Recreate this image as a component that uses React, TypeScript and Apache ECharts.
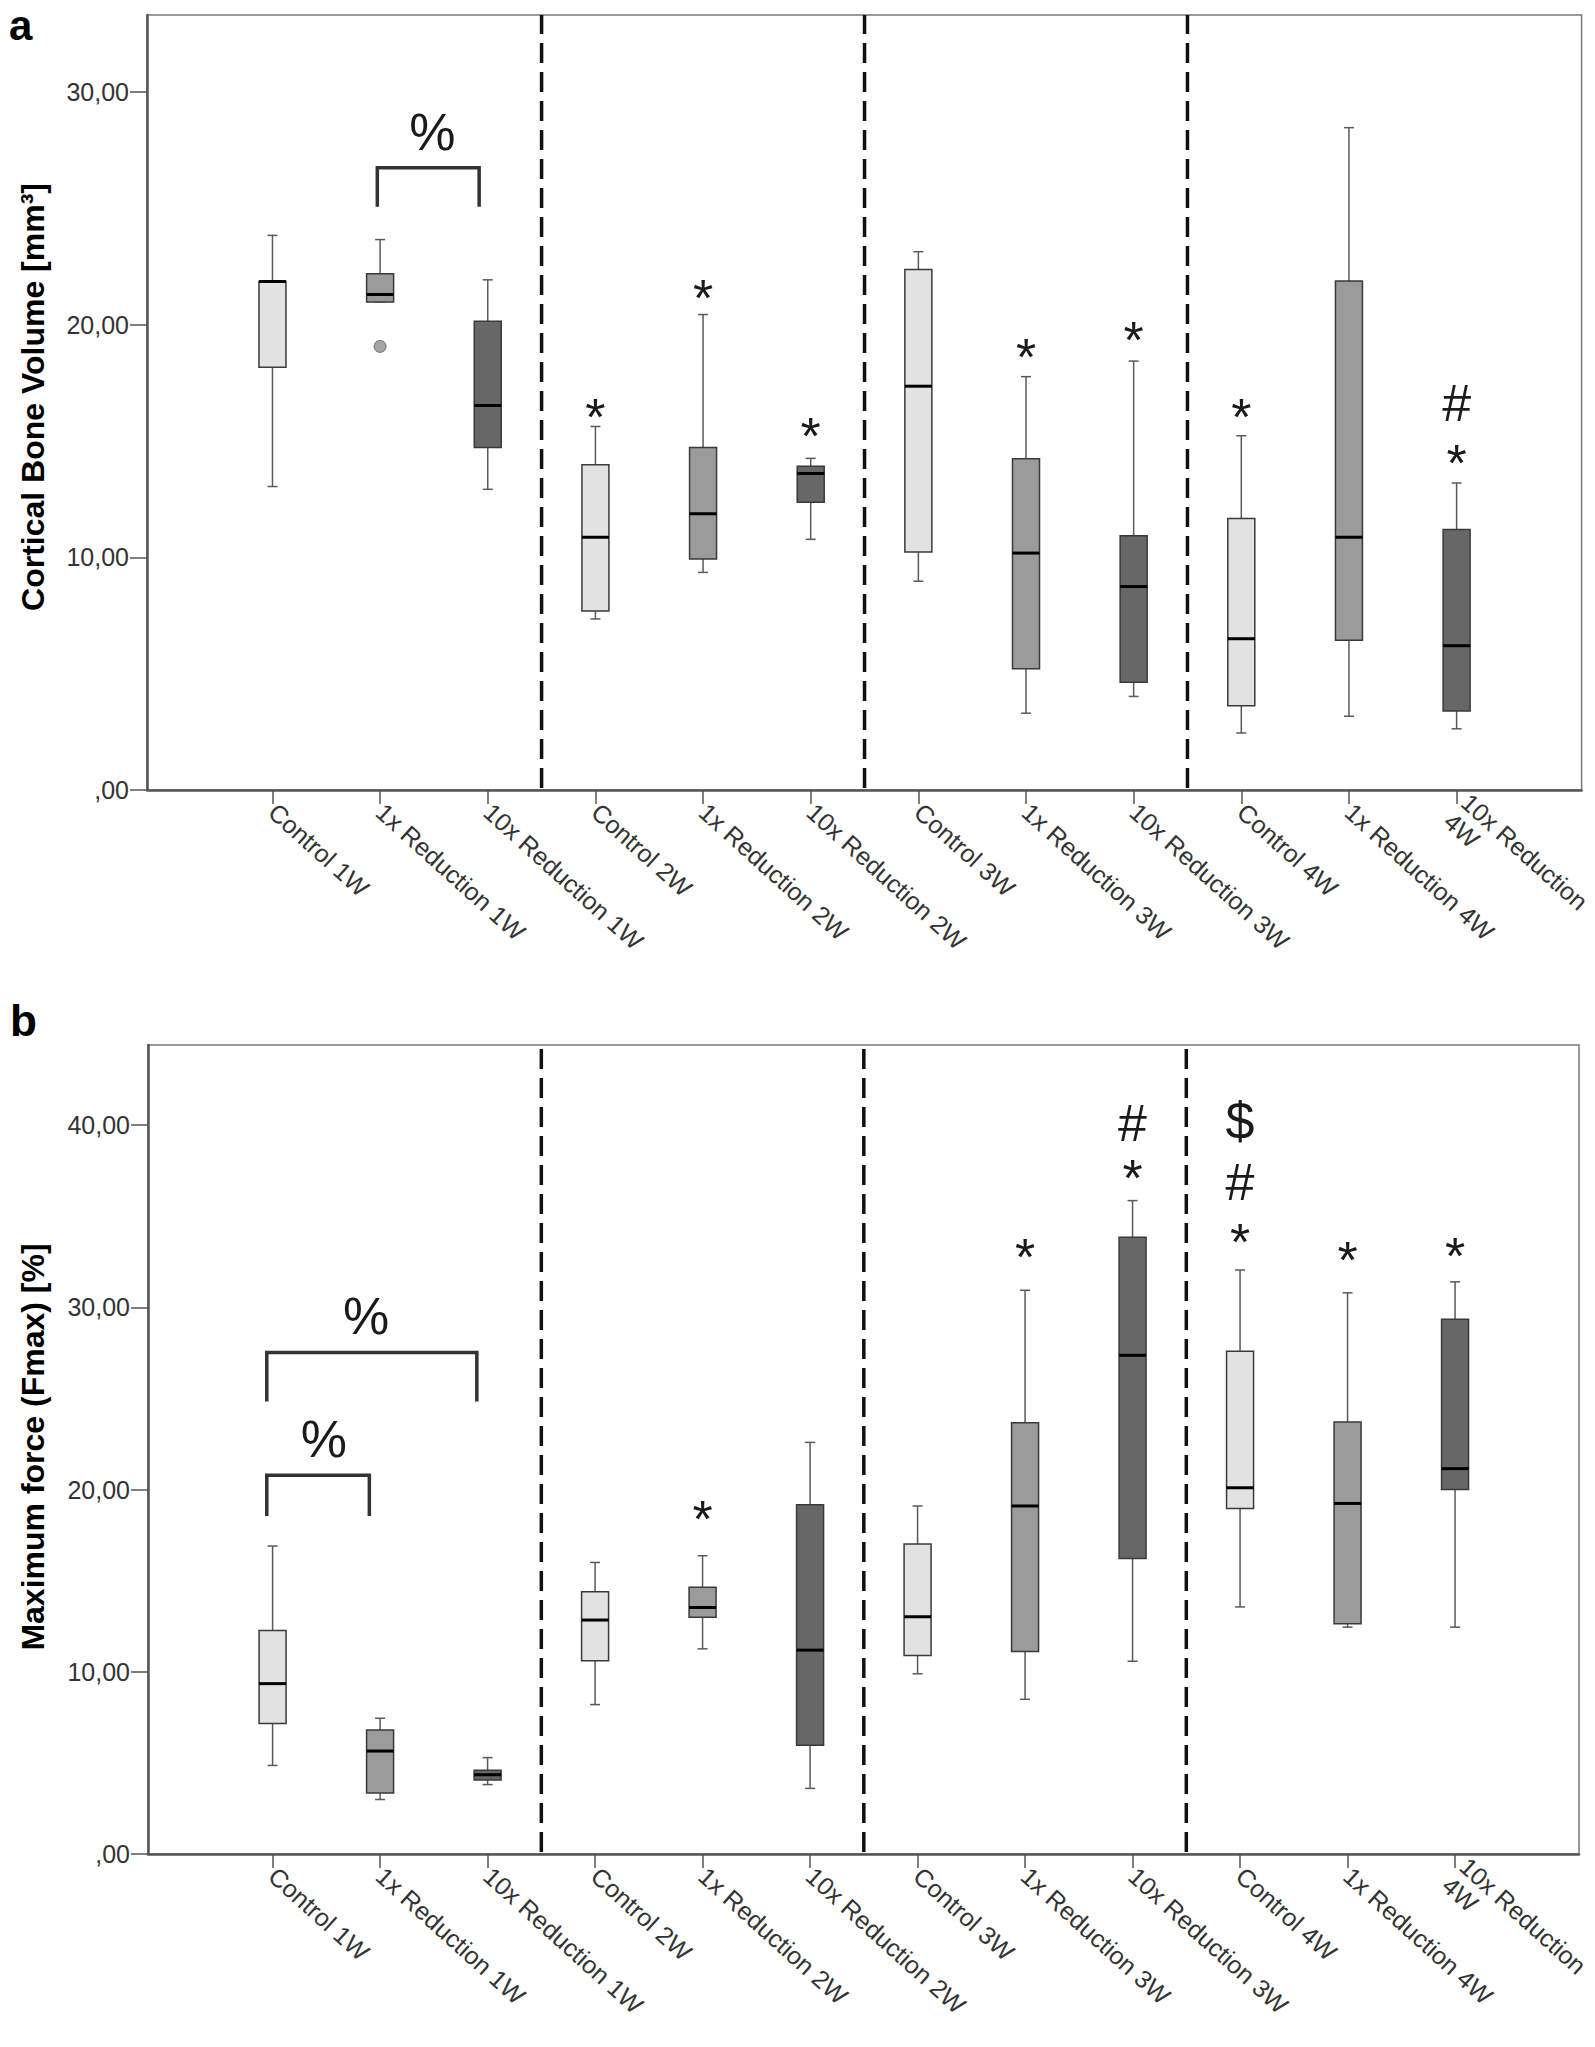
import React, { useEffect, useRef } from 'react';
import * as echarts from 'echarts';

const FONT = "'Liberation Sans', Arial, Helvetica, sans-serif";

// ---------- categories / ticks ----------
const categories = [
  'Control 1W', '1x Reduction 1W', '10x Reduction 1W',
  'Control 2W', '1x Reduction 2W', '10x Reduction 2W',
  'Control 3W', '1x Reduction 3W', '10x Reduction 3W',
  'Control 4W', '1x Reduction 4W', '10x Reduction\n4W',
];
const tickPositions = categories.map((_, i) => i);
const volumeTicks = [0, 10, 20, 30];
const forceTicks = [0, 10, 20, 30, 40];
const separators = [2.5, 5.5, 8.5];

// ---------- panel a: cortical bone volume ----------
const volMax = [23.83, 23.65, 21.92, 15.62, 20.43, 14.25, 23.13, 17.76, 18.43, 15.22, 28.46, 13.19];
const volQ3 = [21.85, 22.18, 20.14, 13.98, 14.72, 13.91, 22.36, 14.23, 10.92, 11.67, 21.87, 11.19];
const volMedian = [21.85, 21.29, 16.52, 10.86, 11.87, 13.6, 17.35, 10.18, 8.74, 6.5, 10.86, 6.2];
const volQ1 = [18.16, 20.97, 14.72, 7.69, 9.93, 12.36, 10.23, 5.21, 4.63, 3.62, 6.43, 3.39];
const volMin = [13.04, 20.97, 12.92, 7.35, 9.35, 10.77, 8.97, 3.3, 4.02, 2.45, 3.17, 2.63];
const volOutliers = [[1, 19.06]];
const volStars = [[3, 16.52], [4, 21.62], [5, 15.69], [7, 19.06], [8, 19.82], [9, 16.52], [11, 14.52]];
const volHashes = [[11, 16.63]];
const volPercents = [[1.486, 28.29]];
const volBrackets = [[0.974, 1.92, 26.74, 25.06]];

// ---------- panel b: maximum force ----------
const forceMax = [16.9, 7.45, 5.29, 16.0, 16.37, 22.59, 19.1, 30.94, 35.86, 32.05, 30.8, 31.4];
const forceQ3 = [12.27, 6.8, 4.6, 14.39, 14.64, 19.17, 17.01, 23.67, 33.85, 27.59, 23.71, 29.35];
const forceMedian = [9.35, 5.65, 4.35, 12.84, 13.53, 11.19, 13.02, 19.1, 27.37, 20.1, 19.24, 21.15];
const forceQ1 = [7.16, 3.35, 4.06, 10.61, 12.99, 5.97, 10.9, 11.12, 16.22, 18.96, 12.63, 20.0];
const forceMin = [4.86, 2.99, 3.81, 8.2, 11.26, 3.6, 9.89, 8.49, 10.58, 13.56, 12.45, 12.45];
const forceStars = [[4, 18.99], [7, 33.38], [8, 37.7], [9, 34.2], [10, 33.2], [11, 33.45]];
const forceHashes = [[8, 40.1], [9, 36.87]];
const forceDollars = [[9, 40.22]];
const forcePercents = [[0.869, 29.54], [0.478, 22.79]];
const forceBrackets = [[-0.054, 1.9, 27.53, 24.84], [-0.054, 0.9, 20.78, 18.55]];

const boxFills = ['#e2e2e2', '#9b9b9b', '#676767'];

function boxData(mn: number[], q1: number[], md: number[], q3: number[], mx: number[]) {
  return categories.map((_, i) => [i, mn[i], q1[i], md[i], q3[i], mx[i]]);
}

const boxRender = (params: any, api: any) => {
  const i = api.value(0);
  const p = (v: number) => api.coord([i, v]);
  const lo = p(api.value(1));
  const q1 = p(api.value(2));
  const md = p(api.value(3));
  const q3 = p(api.value(4));
  const hi = p(api.value(5));
  const cx = lo[0];
  const half = 13.5;
  const cap = 5;
  const fill = boxFills[Math.round(i) % 3];
  const ws = { stroke: '#5a5a5a', lineWidth: 1.5 };
  return {
    type: 'group',
    children: [
      { type: 'line', shape: { x1: cx, y1: hi[1], x2: cx, y2: q3[1] }, style: ws },
      { type: 'line', shape: { x1: cx, y1: q1[1], x2: cx, y2: lo[1] }, style: ws },
      { type: 'line', shape: { x1: cx - cap, y1: hi[1], x2: cx + cap, y2: hi[1] }, style: ws },
      { type: 'line', shape: { x1: cx - cap, y1: lo[1], x2: cx + cap, y2: lo[1] }, style: ws },
      {
        type: 'rect',
        shape: { x: cx - half, y: q3[1], width: half * 2, height: q1[1] - q3[1] },
        style: { fill, stroke: '#3a3a3a', lineWidth: 1.5 },
      },
      { type: 'line', shape: { x1: cx - half, y1: md[1], x2: cx + half, y2: md[1] }, style: { stroke: '#000', lineWidth: 3 } },
    ],
  };
};

const glyphRender = (glyph: string, dy: number) => (params: any, api: any) => {
  const pt = api.coord([api.value(0), api.value(1)]);
  return {
    type: 'text',
    x: pt[0],
    y: pt[1] + dy,
    style: {
      text: glyph,
      fontSize: 52,
      fontFamily: FONT,
      fill: '#1a1a1a',
      align: 'center',
      verticalAlign: 'middle',
    },
  };
};

const bracketRender = (params: any, api: any) => {
  const a = api.coord([api.value(0), api.value(3)]);
  const b = api.coord([api.value(0), api.value(2)]);
  const c = api.coord([api.value(1), api.value(2)]);
  const d = api.coord([api.value(1), api.value(3)]);
  return {
    type: 'polyline',
    shape: { points: [a, b, c, d] },
    style: { stroke: '#333', lineWidth: 3.5, fill: 'none' },
  };
};

const separatorRender = (top: number) => (params: any, api: any) => {
  const x = api.value(0);
  const p0 = api.coord([x, 0]);
  const p1 = api.coord([x, top]);
  return {
    type: 'line',
    shape: { x1: p0[0], y1: p0[1] - 2, x2: p1[0], y2: p1[1] },
    style: { stroke: '#111', lineWidth: 3.5, lineDash: [20, 9] },
  };
};

const yFormatter = (v: number) => (v === 0 ? ',00' : v.toFixed(2).replace('.', ','));

function panelSeries(
  idx: number,
  top: number,
  box: number[][],
  stars: number[][],
  hashes: number[][],
  dollars: number[][],
  percents: number[][],
  brackets: number[][],
  outliers: number[][],
) {
  const base = { xAxisIndex: idx, yAxisIndex: idx, coordinateSystem: 'cartesian2d', silent: true, clip: false };
  const list: any[] = [
    { ...base, type: 'custom', renderItem: separatorRender(top), data: separators.map((x) => [x]), z: 1 },
    { ...base, type: 'custom', renderItem: boxRender, data: box, encode: { x: 0, y: [1, 2, 3, 4, 5] }, z: 2 },
    { ...base, type: 'custom', renderItem: glyphRender('*', 11), data: stars, z: 3 },
    { ...base, type: 'custom', renderItem: glyphRender('#', 0), data: hashes, z: 3 },
    { ...base, type: 'custom', renderItem: glyphRender('$', 0), data: dollars, z: 3 },
    { ...base, type: 'custom', renderItem: glyphRender('%', 0), data: percents, z: 3 },
    { ...base, type: 'custom', renderItem: bracketRender, data: brackets, z: 3 },
  ];
  if (outliers.length) {
    list.push({
      ...base,
      type: 'scatter',
      data: outliers,
      symbol: 'circle',
      symbolSize: 12,
      itemStyle: { color: '#8e8e8e', borderColor: '#555', borderWidth: 1 },
      z: 3,
    });
  }
  return list;
}

function xAxisDef(idx: number, min: number, max: number) {
  return {
    type: 'value',
    gridIndex: idx,
    min,
    max,
    axisLine: { show: true, onZero: false, lineStyle: { color: '#555', width: 2.5 } },
    axisTick: { show: true, customValues: tickPositions, length: 14, lineStyle: { color: '#555', width: 1.5 } },
    axisLabel: {
      show: true,
      customValues: tickPositions,
      formatter: (v: number) => categories[Math.round(v)] ?? '',
      rotate: -42,
      margin: 18,
      fontSize: 25,
      lineHeight: 26,
      color: '#333',
      fontFamily: FONT,
    },
    splitLine: { show: false },
  };
}

function yAxisDef(idx: number, max: number, ticks: number[]) {
  return {
    type: 'value',
    gridIndex: idx,
    min: 0,
    max,
    axisLine: { show: true, onZero: false, lineStyle: { color: '#555', width: 2.5 } },
    axisTick: { show: true, customValues: ticks, length: 17, lineStyle: { color: '#555', width: 1.5 } },
    axisLabel: {
      show: true,
      customValues: ticks,
      formatter: yFormatter,
      margin: 18,
      fontSize: 25,
      color: '#333',
      fontFamily: FONT,
    },
    splitLine: { show: false },
  };
}

export default function App() {
  const ref = useRef<HTMLDivElement>(null);
  useEffect(() => {
    if (!ref.current) return;
    const chart = echarts.init(ref.current, undefined, { renderer: 'svg' });
    const volTop = 33.3;
    const forceTop = 44.4;
    chart.setOption({
      animation: false,
      backgroundColor: '#ffffff',
      grid: [
        { left: 147, top: 15, width: 1436, height: 775, show: true, borderColor: '#7a7a7a', borderWidth: 1.5, backgroundColor: 'transparent' },
        { left: 148, top: 1045, width: 1431, height: 809, show: true, borderColor: '#7a7a7a', borderWidth: 1.5, backgroundColor: 'transparent' },
      ],
      xAxis: [xAxisDef(0, -1.1655, 12.161), xAxisDef(1, -1.159, 12.153)],
      yAxis: [yAxisDef(0, volTop, volumeTicks), yAxisDef(1, forceTop, forceTicks)],
      graphic: [
        { type: 'text', x: 9, y: 25, style: { text: 'a', fontSize: 42, fontWeight: 'bold', fontFamily: FONT, fill: '#000', align: 'left', verticalAlign: 'middle' } },
        { type: 'text', x: 10, y: 1020, style: { text: 'b', fontSize: 44, fontWeight: 'bold', fontFamily: FONT, fill: '#000', align: 'left', verticalAlign: 'middle' } },
        {
          type: 'text', x: 33, y: 397, rotation: Math.PI / 2,
          style: { text: 'Cortical Bone Volume [mm³]', fontSize: 32, fontWeight: 'bold', fontFamily: FONT, fill: '#000', align: 'center', verticalAlign: 'middle' },
        },
        {
          type: 'text', x: 33, y: 1447, rotation: Math.PI / 2,
          style: { text: 'Maximum force (Fmax) [%]', fontSize: 32, fontWeight: 'bold', fontFamily: FONT, fill: '#000', align: 'center', verticalAlign: 'middle' },
        },
      ],
      series: [
        ...panelSeries(0, volTop, boxData(volMin, volQ1, volMedian, volQ3, volMax), volStars, volHashes, [], volPercents, volBrackets, volOutliers),
        ...panelSeries(1, forceTop, boxData(forceMin, forceQ1, forceMedian, forceQ3, forceMax), forceStars, forceHashes, forceDollars, forcePercents, forceBrackets, []),
      ],
    });
    return () => chart.dispose();
  }, []);
  return <div ref={ref} style={{ position: 'absolute', left: 0, top: 0, width: 1595, height: 2047 }} />;
}
